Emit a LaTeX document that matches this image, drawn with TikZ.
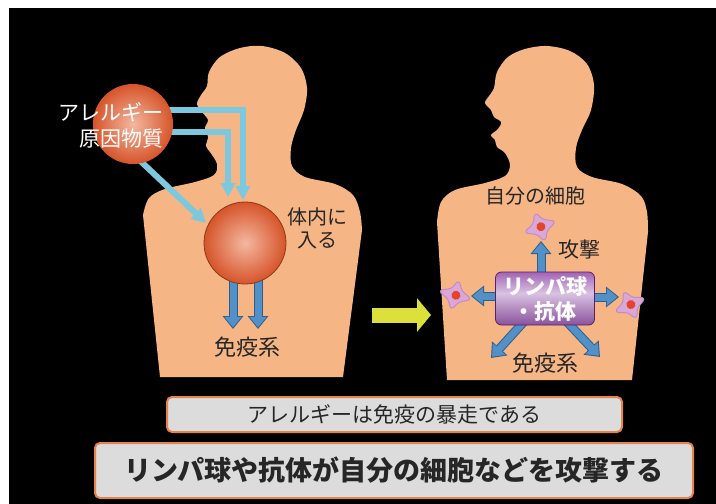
\documentclass[tikz,border=0pt]{standalone}
\usepackage{fontspec}
\newfontfamily\jp{Noto Sans CJK JP}
\usetikzlibrary{arrows.meta,calc}

\definecolor{skin}{HTML}{F5B585}
\definecolor{ink}{HTML}{262626}
\definecolor{allbase}{HTML}{D6542A}
\definecolor{allglow}{HTML}{F3B8A0}
\definecolor{ballrim}{HTML}{8A3A1C}
\definecolor{paleblue}{HTML}{7CC8DF}
\definecolor{barrowfill}{HTML}{5290C8}
\definecolor{barrowedge}{HTML}{2E5D8C}
\definecolor{cellfill}{HTML}{D8A8D8}
\definecolor{celledge}{HTML}{C58AC4}
\definecolor{cellcore}{HTML}{E6432B}
\definecolor{purptop}{HTML}{8A3CA0}
\definecolor{purpbottom}{HTML}{6C2882}
\definecolor{purplight}{HTML}{D9C2E2}
\definecolor{purpedge}{HTML}{56206A}
\definecolor{arrowyellow}{HTML}{DCE03A}
\definecolor{boxfill}{HTML}{DCDCDC}
\definecolor{boxedge}{HTML}{E4834E}

% glossy band for the lymphocyte box
\pgfdeclareverticalshading{purpband}{100bp}{%
  color(0bp)=(purpbottom); color(22bp)=(purpbottom!80!purplight);
  color(55bp)=(purplight); color(75bp)=(purptop!70!purplight);
  color(100bp)=(purptop)}

\pgfdeclarelayer{bg}
\pgfdeclarelayer{arr}
\pgfsetlayers{bg,arr,main}

% blue block arrow with a thin dark rim
\newcommand\blockarrow[2]{%
  \draw[line width=9pt, draw=barrowedge, -{Triangle[width=20pt,length=13pt]}] #1 -- #2;
  \draw[line width=7pt, draw=barrowfill, shorten >=1.6pt, -{Triangle[width=16.5pt,length=10.5pt]}] #1 -- #2;}

\tikzset{
  ball/.style={circle, inner sep=0pt},
  darktext/.style={text=ink, inner sep=0pt, align=center, font=\jp\fontsize{20}{23}\selectfont},
  feed/.style={line width=6pt, draw=paleblue, -{Triangle[width=14pt,length=14pt]}},
  purplebox/.style={rounded corners=6pt, draw=purpedge, line width=0.8pt,
    shading=purpband, text=white, inner sep=0pt, align=center,
    font=\jp\bfseries\fontsize{21}{25}\selectfont},
  caption/.style={rounded corners=5pt, draw=boxedge, line width=2pt, fill=boxfill,
    text=ink, inner sep=0pt},
  cellpic/.pic={
    \filldraw[fill=cellfill, draw=celledge, line width=1pt]
      plot[smooth cycle, tension=0.8] coordinates
      {(0:15) (45:8.5) (90:13.5) (135:8.5) (180:15) (225:8) (270:13.5) (315:8.5)};
    \fill[cellcore] (1,0) circle (4.5);
  }
}

\begin{document}
\begin{tikzpicture}[x=1pt,y=-1pt]
\useasboundingbox (0,0) rectangle (716,504);

% backdrop and the two silhouettes
\begin{pgfonlayer}{bg}
  \fill[white] (0,0) rectangle (716,504);
  \fill[black] (9,8) rectangle (716,504);
  \fill[skin] (160,377) -- (143,215) -- plot[smooth, tension=0.55] coordinates {
    (143,215) (149,198) (165,189) (195,182) (214,175) (217,164) (210,152)
    (206,146) (208,137) (205,128) (208,120) (202,112) (197,104) (201,95)
    (207,86) (209,72) (220,57) (240,48) (262,46) (285,53) (301,68) (307,88)
    (304,110) (296,130) (291,148) (292,166) (305,177) (335,184) (353,195)
    (360,212) (362,230)} -- (343,377) -- cycle;
  \fill[skin] (447,380) -- (437,222) -- plot[smooth, tension=0.55] coordinates {
    (437,222) (441,202) (455,190) (485,183) (505,176) (510,165) (505,153)
    (497,147) (495,140) (491,135) (498,129) (501,122) (494,117) (491,110)
    (485,103) (489,96) (494,88) (497,72) (508,57) (525,49) (547,46) (570,51)
    (587,64) (594,85) (591,110) (582,130) (576,148) (577,167) (592,177)
    (622,184) (641,196) (647,212) (648,232)} -- (632,380) -- cycle;
\end{pgfonlayer}

% left figure
\node[ball, minimum size=80pt, inner color=allglow, outer color=allbase] (al) at (133,124) {};
\node[text=white, inner sep=0pt, anchor=east, align=right,
      font=\jp\fontsize{21}{26}\selectfont] (alt) at (164,125) {アレルギー\\原因物質};
\node[ball, minimum size=82pt, draw=ballrim, line width=0.8pt,
      inner color=allglow, outer color=allbase] (bc) at (245,243) {};
\node[darktext, font=\jp\fontsize{20}{23}\selectfont] (inside) at (317,228) {体内に\\入る};
\node[darktext, font=\jp\fontsize{22}{26}\selectfont] (im1) at (247,347) {免疫系};

\coordinate (ta) at (243,200);
\coordinate (tb) at (228,197);
\coordinate (tc) at (206,223);
\coordinate (tda) at (233,329);
\coordinate (tdb) at (258,329);

% right figure
\node[purplebox, minimum width=99pt, minimum height=53pt] (lb) at (545,298.5) {リンパ球\\・抗体};
\node[darktext] (own) at (535,196) {自分の細胞};
\node[darktext, font=\jp\fontsize{21}{25}\selectfont] (atk) at (579,250) {攻撃};
\node[darktext, font=\jp\fontsize{22}{26}\selectfont] (im2) at (545,363) {免疫系};

\coordinate (c1) at (540,227);
\coordinate (c2) at (455,295);
\coordinate (c3) at (630,305);
\pic[rotate=20] at (c1) {cellpic};
\pic[rotate=-15] at (c2) {cellpic};
\pic[rotate=25] at (c3) {cellpic};

\coordinate (tu) at (541,241);
\coordinate (tl) at (471,296);
\coordinate (tr) at (619,297);
\coordinate (tdl) at (491,358);
\coordinate (tdr) at (600,357);

% transition arrow
\coordinate (ys) at (372,315);
\coordinate (ye) at (431,315);
\draw[line width=15pt, draw=arrowyellow, -{Triangle[width=33pt,length=14pt]}] (ys) -- (ye);

% captions
\node[caption, minimum width=455pt, minimum height=35pt,
      font=\jp\fontsize{21}{25}\selectfont] (b1) at (394.5,414.5) {アレルギーは免疫の暴走である};
\node[caption, minimum width=598pt, minimum height=55pt,
      font=\jp\bfseries\fontsize{27}{31}\selectfont] (b2) at (394,470.5) {リンパ球や抗体が自分の細胞などを攻撃する};

% arrows, kept beneath the balls and the box
\begin{pgfonlayer}{arr}
  \draw[feed] ([yshift=14pt]al.center) -| (ta);
  \draw[feed] ([yshift=-8pt]al.center) -| (tb);
  \draw[feed] ([yshift=-30pt]al.center) -- (tc);
  \blockarrow{(bc.center -| tda)}{(tda)}
  \blockarrow{(bc.center -| tdb)}{(tdb)}
  \blockarrow{(lb.center -| tu)}{(tu)}
  \blockarrow{(lb.center |- tl)}{(tl)}
  \blockarrow{(lb.center |- tr)}{(tr)}
  \blockarrow{(lb.center)}{(tdl)}
  \blockarrow{(lb.center)}{(tdr)}
\end{pgfonlayer}
\end{tikzpicture}
\end{document}
